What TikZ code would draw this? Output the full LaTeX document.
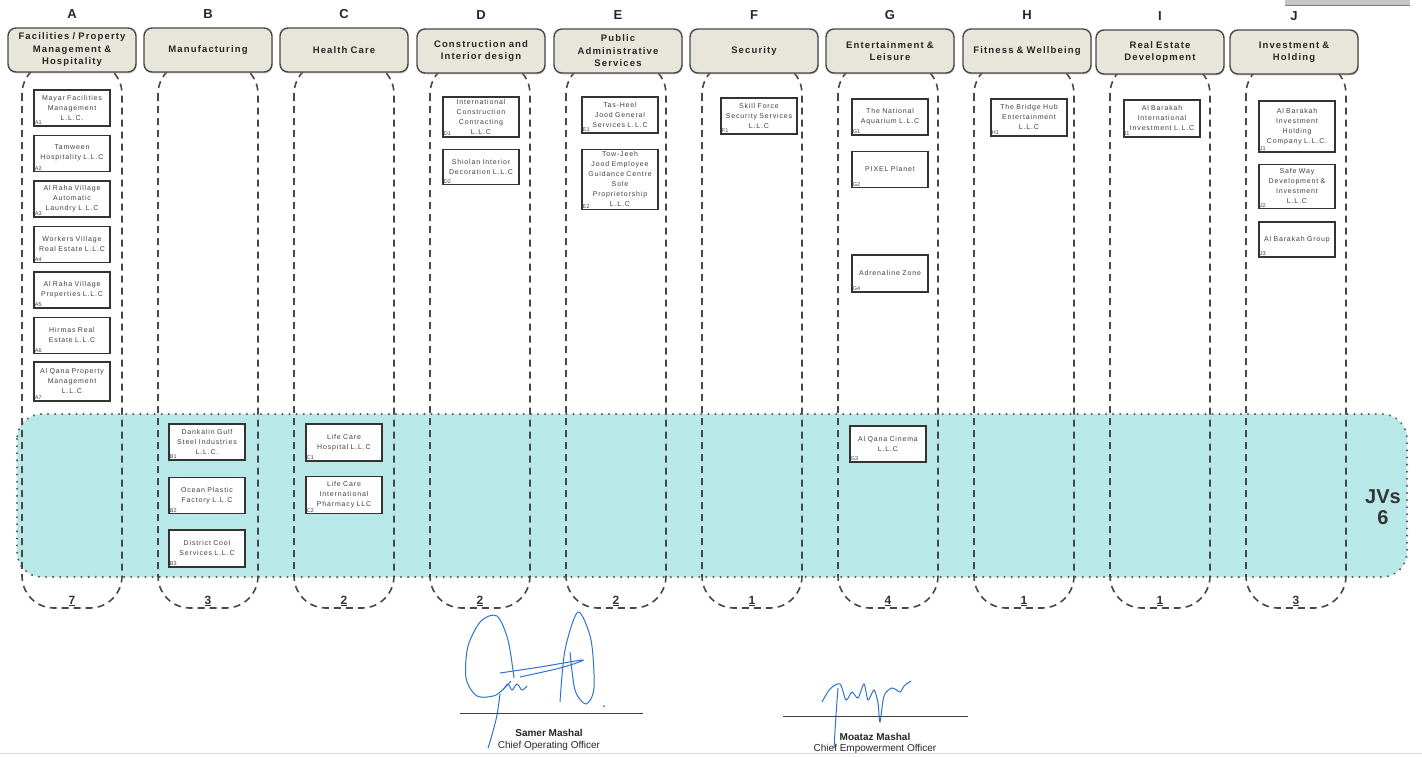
\documentclass[tikz,border=0pt]{standalone}
\usepackage{fontspec}
\setmainfont{Liberation Sans}
\newfontfamily\capfont[LetterSpace=12]{Liberation Sans}
\newfontfamily\firmfont[LetterSpace=12]{Liberation Sans}
\usetikzlibrary{positioning,shadows}
\definecolor{bandfill}{RGB}{184,233,232}
\definecolor{headfill}{RGB}{232,230,219}
\definecolor{inkgray}{RGB}{72,72,72}
\definecolor{signblue}{RGB}{45,115,205}
\begin{document}
\begin{tikzpicture}[x=1pt,y=1pt,
  head/.style={draw=inkgray,line width=1.4pt,fill=headfill,rounded corners=8pt,minimum width=128pt,minimum height=44pt,text width=124pt,inner sep=2pt,align=center,text=black!85,font=\capfont\bfseries\fontsize{9.5}{12.5}\selectfont,drop shadow={opacity=0.45,shadow xshift=0.6pt,shadow yshift=-1.4pt}},
  letter/.style={font=\bfseries\fontsize{13}{13}\selectfont,text=black!85},
  firm/.style={draw=black!80,line width=1.5pt,fill=white,minimum width=75pt,minimum height=36pt,text width=72pt,inner sep=2pt,align=center,text=black!75,font=\firmfont\fontsize{7}{10}\selectfont},
  code/.style={anchor=south west,inner sep=1.5pt,text=black!75,font=\fontsize{5.5}{5.5}\selectfont},
  count/.style={anchor=base,text=black!80,font=\bfseries\fontsize{12}{12}\selectfont},
  lane/.style={draw=inkgray,line width=1.6pt,dash pattern=on 7pt off 5pt,rounded corners=32pt},
  jvline/.style={draw=black!65,line width=2.2pt,line cap=round,dash pattern=on 0.1pt off 7pt,rounded corners=25pt},
  sign/.style={draw=signblue,line width=1pt},
  signame/.style={text=black!85,font=\bfseries\fontsize{10}{10}\selectfont},
  sigrole/.style={text=black!85,font=\fontsize{10}{10}\selectfont}]
\useasboundingbox (0,0) rectangle (1422,-756);
\fill[black!22] (1285,0) rectangle (1410,-5);
\draw[black!50,line width=1pt] (1285,-5) -- (1410,-5);

\fill[bandfill,rounded corners=25pt] (17,-414) rectangle (1407,-577);
\draw[jvline] (17,-414) rectangle (1407,-577);
\foreach \x in {72,208,344,480,616,752,888,1024,1160,1296}
  \draw[lane] ({\x-50},-62) rectangle ({\x+50},-608);

\node[head] (hA) at (72,-50) {Facilities / Property\\Management \&\\Hospitality};
\node[head] (hB) at (208,-50) {Manufacturing};
\node[head] (hC) at (344,-50) {Health Care};
\node[head] (hD) at (481,-51) {Construction and\\Interior design};
\node[head] (hE) at (618,-51) {Public\\Administrative\\Services};
\node[head] (hF) at (754,-51) {Security};
\node[head] (hG) at (890,-51) {Entertainment \&\\Leisure};
\node[head] (hH) at (1027,-51) {Fitness \& Wellbeing};
\node[head] (hI) at (1160,-52) {Real Estate\\Development};
\node[head] (hJ) at (1294,-52) {Investment \&\\Holding};

\node[letter] (lA) [above=5pt of hA] {A};
\node[letter] (lB) [above=5pt of hB] {B};
\node[letter] (lC) [above=5pt of hC] {C};
\node[letter] (lD) [above=5pt of hD] {D};
\node[letter] (lE) [above=5pt of hE] {E};
\node[letter] (lF) [above=5pt of hF] {F};
\node[letter] (lG) [above=5pt of hG] {G};
\node[letter] (lH) [above=5pt of hH] {H};
\node[letter] (lI) [above=5pt of hI] {I};
\node[letter] (lJ) [above=5pt of hJ] {J};

\node[count] (nA) at (72,-604) {\underline{7}};
\node[count] (nB) at (208,-604) {\underline{3}};
\node[count] (nC) at (344,-604) {\underline{2}};
\node[count] (nD) at (480,-604) {\underline{2}};
\node[count] (nE) at (616,-604) {\underline{2}};
\node[count] (nF) at (752,-604) {\underline{1}};
\node[count] (nG) at (888,-604) {\underline{4}};
\node[count] (nH) at (1024,-604) {\underline{1}};
\node[count] (nI) at (1160,-604) {\underline{1}};
\node[count] (nJ) at (1296,-604) {\underline{3}};

\node[firm,anchor=north,label={[code,name=ca1]south west:A1}] (a1) at (72,-89) {Mayar Facilities\\Management\\L.L.C.};
\node[firm,label={[code,name=ca2]south west:A2}] (a2) [below=8pt of a1] {Tamween\\Hospitality L.L.C};
\node[firm,label={[code,name=ca3]south west:A3}] (a3) [below=8pt of a2] {Al Raha Village\\Automatic\\Laundry L.L.C};
\node[firm,label={[code,name=ca4]south west:A4}] (a4) [below=8pt of a3] {Workers Village\\Real Estate L.L.C};
\node[firm,label={[code,name=ca5]south west:A5}] (a5) [below=8pt of a4] {Al Raha Village\\Properties L.L.C};
\node[firm,label={[code,name=ca6]south west:A6}] (a6) [below=8pt of a5] {Hirmas Real\\Estate L.L.C};
\node[firm,minimum height=39pt,label={[code,name=ca7]south west:A7}] (a7) [below=7pt of a6] {Al Qana Property\\Management\\L.L.C};

\node[firm,anchor=north,label={[code,name=cb1]south west:B1}] (b1) at (207,-423) {Dankalin Gulf\\Steel Industries\\L.L.C.};
\node[firm,label={[code,name=cb2]south west:B2}] (b2) [below=16pt of b1] {Ocean Plastic\\Factory L.L.C};
\node[firm,minimum height=37pt,label={[code,name=cb3]south west:B3}] (b3) [below=15pt of b2] {District Cool\\Services L.L.C};

\node[firm,anchor=north,minimum height=37pt,label={[code,name=cc1]south west:C1}] (c1) at (344,-423) {Life Care\\Hospital L.L.C};
\node[firm,minimum height=37pt,label={[code,name=cc2]south west:C2}] (c2) [below=14pt of c1] {Life Care\\International\\Pharmacy LLC};

\node[firm,anchor=north,minimum height=40pt,label={[code,name=cd1]south west:D1}] (d1) at (481,-96) {International\\Construction\\Contracting\\L.L.C};
\node[firm,minimum height=35pt,label={[code,name=cd2]south west:D2}] (d2) [below=11pt of d1] {Shiolan Interior\\Decoration L.L.C};

\node[firm,anchor=north,label={[code,name=ce1]south west:E1}] (e1) at (620,-96) {Tas-Heel\\Jood General\\Services L.L.C};
\node[firm,minimum height=60pt,label={[code,name=ce2]south west:E2}] (e2) [below=15pt of e1] {Tow-Jeeh\\Jood Employee\\Guidance Centre\\Sole\\Proprietorship\\L.L.C};

\node[firm,anchor=north,label={[code,name=cf1]south west:F1}] (f1) at (759,-97) {Skill Force\\Security Services\\L.L.C};

\node[firm,anchor=north,label={[code,name=cg1]south west:G1}] (g1) at (890,-98) {The National\\Aquarium L.L.C};
\node[firm,label={[code,name=cg2]south west:G2}] (g2) [below=15pt of g1] {PIXEL Planet};
\node[firm,minimum height=37pt,label={[code,name=cg4]south west:G4}] (g4) [below=66pt of g2] {Adrenaline Zone};
\node[firm,anchor=north,label={[code,name=cg3]south west:G3}] (g3) at (888,-425) {Al Qana Cinema\\L.L.C};

\node[firm,anchor=north,minimum height=37pt,label={[code,name=ch1]south west:H1}] (h1) at (1029,-98) {The Bridge Hub\\Entertainment\\L.L.C};

\node[firm,anchor=north,minimum height=37pt,label={[code,name=ci1]south west:I1}] (i1) at (1162,-99) {Al Barakah\\International\\Investment L.L.C};

\node[firm,anchor=north,minimum height=51pt,label={[code,name=cj1]south west:J1}] (j1) at (1297,-100) {Al Barakah\\Investment\\Holding\\Company L.L.C.};
\node[firm,minimum height=44pt,label={[code,name=cj2]south west:J2}] (j2) [below=11pt of j1] {Safe Way\\Development \&\\Investment\\L.L.C};
\node[firm,minimum height=35pt,label={[code,name=cj3]south west:J3}] (j3) [below=12pt of j2] {Al Barakah Group};

\node[align=center,text=black!80,font=\bfseries\fontsize{20}{21}\selectfont] (jv) at (1383,-507) {JVs\\6};

\draw[sign] plot[smooth] coordinates {(514,-678) (508,-640) (497,-616) (481,-621) (468,-646) (466,-678) (477,-696) (496,-695) (511,-681)};
\draw[sign] plot[smooth] coordinates {(500,-694) (497,-715) (492,-735) (488,-748)};
\draw[sign] plot[smooth] coordinates {(500,-673) (540,-667) (583,-660) (560,-668) (520,-677)};
\draw[sign] plot[smooth] coordinates {(503,-690) (508,-684) (512,-690) (517,-684) (522,-690) (527,-686)};
\draw[sign] plot[smooth] coordinates {(560,-702) (565,-650) (578,-612) (591,-640) (594,-688) (586,-704) (575,-690) (570,-652)};
\fill[signblue] (604,-706) circle (1pt);
\draw[sign] plot[smooth] coordinates {(838,-688) (836,-715) (834,-748)};
\draw[sign] plot[smooth] coordinates {(822,-702) (830,-689) (840,-684) (846,-700) (852,-692) (858,-698) (864,-684) (868,-700) (874,-690) (878,-703) (880,-722) (884,-696) (892,-688) (900,-692) (904,-686) (911,-681)};

\draw[black!75,line width=1pt] (460,-713) -- (643,-713);
\draw[black!75,line width=1pt] (783,-716) -- (968,-716);
\node[signame] (samer) at (549,-733) {Samer Mashal};
\node[sigrole] (coo) at (549,-746) {Chief Operating Officer};
\node[signame] (moataz) at (875,-737) {Moataz Mashal};
\node[sigrole] (ceo) at (875,-749) {Chief Empowerment Officer};
\draw[black!15] (0,-753) -- (1422,-753);
\end{tikzpicture}
\end{document}
